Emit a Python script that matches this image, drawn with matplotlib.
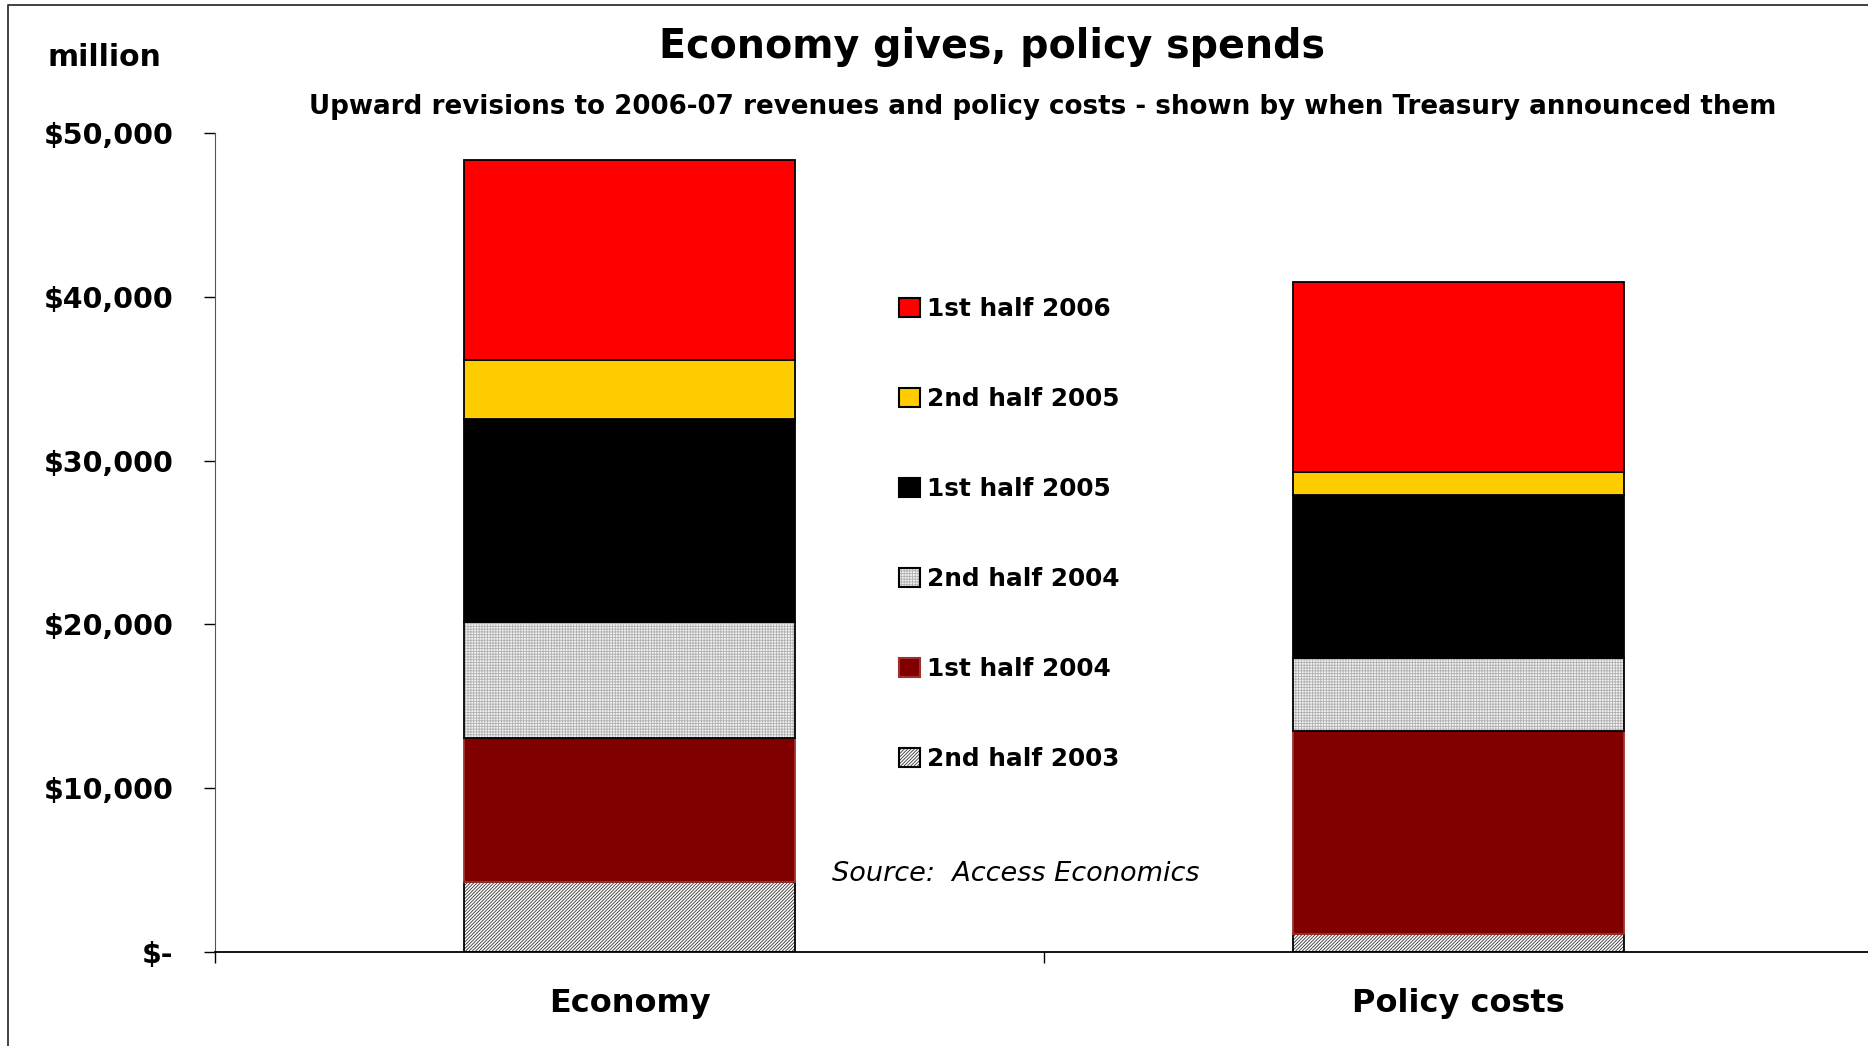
import numpy as np
import matplotlib
matplotlib.use("Agg")
import matplotlib.pyplot as plt
from matplotlib.patches import Patch
from matplotlib.lines import Line2D
from matplotlib.ticker import FuncFormatter

plt.rcParams['font.family'] = ['DejaVu Sans']
plt.rcParams['hatch.linewidth'] = 0.6

# data (A$ million), bottom segment first
categories = ['Economy', 'Policy costs']
periods = ['2nd half 2003', '1st half 2004', '2nd half 2004',
           '1st half 2005', '2nd half 2005', '1st half 2006']
economy = [4300, 8750, 7100, 12400, 3600, 12200]
policy = [1100, 12400, 4450, 9980, 1370, 11600]

face = ['white', '#800000', '#f2f2f2', 'black', '#ffcc00', '#ff0000']
hatch_col = ['#333333', '#800000', '#b0b0b0', 'black', '#ffcc00', '#ff0000']
hatches = ['//////////', None, '++++++', None, None, None]
outline = ['black', '#a03030', 'black', 'black', 'black', 'black']

W, H = 1868, 1046
fig = plt.figure(figsize=(W / 100, H / 100), dpi=100)
ax = fig.add_axes([215 / W, 1 - 952 / H, (1873 - 215) / W, (952 - 133) / H])

x = np.arange(len(categories))
vals = np.array([economy, policy]).T
bottom = np.zeros(len(categories))
width = 0.4
for i, p in enumerate(periods):
    ax.bar(x, vals[i], width, bottom=bottom, color=face[i],
           edgecolor=hatch_col[i], hatch=hatches[i], linewidth=0)
    ax.bar(x, vals[i], width, bottom=bottom, fill=False,
           edgecolor=outline[i], linewidth=1.3)
    bottom += vals[i]

ax.set_xlim(-0.5, 1.5)
ax.set_ylim(0, 50000)
ax.set_yticks(np.arange(0, 50001, 10000))
ax.yaxis.set_major_formatter(FuncFormatter(
    lambda v, pos: '$-' if v == 0 else '${:,.0f}'.format(v)))
ax.set_xticks([-0.5, 0.5, 1.5])
ax.set_xticklabels([])
ax.set_xticks(x, minor=True)
ax.set_xticklabels(categories, minor=True)
ax.tick_params(axis='x', which='minor', length=0, pad=26, labelsize=23)
ax.tick_params(axis='x', which='major', length=8, width=1, direction='out')
ax.tick_params(axis='y', length=8, width=1, direction='out', pad=22, labelsize=20.5)
for lab in ax.get_xticklabels(minor=True) + ax.get_yticklabels():
    lab.set_fontweight('bold')
ax.spines['top'].set_visible(False)
ax.spines['right'].set_visible(False)
ax.spines['left'].set_color('#555555')
ax.spines['bottom'].set_linewidth(1.3)

# legend, newest period on top
handles = []
for i in range(len(periods))[::-1]:
    handles.append((Patch(facecolor=face[i], hatch=hatches[i],
                          edgecolor=hatch_col[i], linewidth=0),
                    Patch(fill=False, edgecolor=outline[i], linewidth=1.5)))
leg = fig.legend(handles, [periods[i] for i in range(len(periods))[::-1]],
                 loc='upper left', bbox_to_anchor=(899 / W, 1 - 297 / H),
                 frameon=False, prop={'weight': 'bold', 'size': 17.8},
                 handlelength=0.85, handleheight=0.85, handletextpad=0.3,
                 labelspacing=2.67, borderpad=0, borderaxespad=0)

fig.text(992 / W, 1 - 47 / H, 'Economy gives, policy spends', ha='center',
         va='center', fontsize=28.5, fontweight='bold')
fig.text(1043 / W, 1 - 107 / H,
         'Upward revisions to 2006-07 revenues and policy costs - shown by when Treasury announced them',
         ha='center', va='center', fontsize=18.85, fontweight='bold')
fig.text(48 / W, 1 - 58 / H, 'million', ha='left', va='center',
         fontsize=21.5, fontweight='bold')
fig.text(832 / W, 1 - 874 / H, 'Source:  Access Economics', ha='left',
         va='center', fontsize=19.5, style='italic')

# chart border (left and top edges visible)
fig.add_artist(Line2D([8 / W, 8 / W, 1], [0, 1 - 5 / H, 1 - 5 / H],
                      transform=fig.transFigure, color='#333333', lw=1.3))

fig.savefig('out.png', dpi=100)
